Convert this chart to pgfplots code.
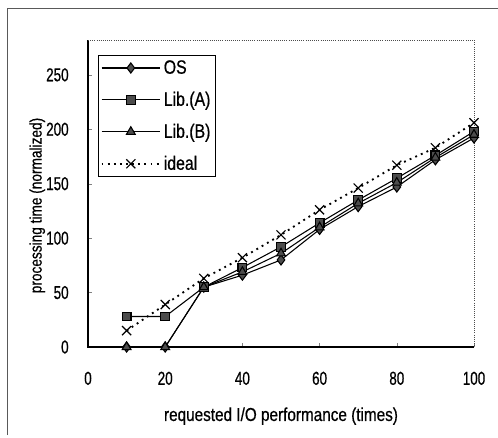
\documentclass[border=0pt]{standalone}
\usepackage{pgfplots}
\pgfplotsset{compat=1.18}
\usepackage{fontspec}
\setmainfont{Liberation Sans}[FakeStretch=0.82,FakeBold=0.6]
\newfontfamily\tickfont{Liberation Sans}[FakeStretch=0.72,FakeBold=0.6]

\definecolor{markfill}{gray}{0.3}

\begin{document}
\begin{tikzpicture}[x=0.75pt,y=0.75pt]
\useasboundingbox (0,0) rectangle (498,437);
% outer frame (top and left only are visible)
\draw[gray!70!black,line width=0.6pt] (7,2) -- (7,429) -- (498,429);
\begin{axis}[
  at={(66pt,67.5pt)},anchor=south west,
  scale only axis,width=289.5pt,height=230.25pt,
  xmin=0,xmax=100,ymin=0,ymax=282,
  xtick={0,20,...,100},ytick={0,50,...,250},
  xtick pos=left,ytick pos=left,tick align=inside,
  major tick length=3pt,
  axis line style={draw=none},
  clip=false,
  /pgf/number format/assume math mode=true,
  tick label style={font=\tickfont\fontsize{14}{16}\selectfont},
  xticklabel style={yshift=-15pt},
  yticklabel style={xshift=-11pt},
  xlabel={requested I/O performance (times)},
  ylabel={processing time (normalized)},
  xlabel style={font=\fontsize{14}{16}\selectfont,yshift=-10pt},
  ylabel style={font=\fontsize{12.5}{14}\selectfont,yshift=-6pt,xshift=-9pt},
  legend style={at={(0.026,0.951)},anchor=north west,draw=black,line width=0.8pt,
    font=\fontsize{14.5}{16}\selectfont,inner sep=1.5pt,row sep=8pt,cells={anchor=west}},
  legend image code/.code={\draw[mark repeat=2,mark phase=2,#1] plot coordinates {(0pt,0pt) (22pt,0pt) (44pt,0pt)};},
]
\draw[line width=0.8pt] (rel axis cs:0,1) -- (rel axis cs:0,0) -- (rel axis cs:1,0);
\draw[gray!60!black,densely dotted,line width=0.6pt] (rel axis cs:0,1) -- (rel axis cs:1,1) -- (rel axis cs:1,0);

\addplot[black,line width=0.8pt,mark=diamond*,mark size=3.8pt,mark options={fill=markfill,draw=black,solid}]
  coordinates {(10,0) (20,0) (30,55) (40,66) (50,80) (60,108) (70,129) (80,147) (90,172) (100,192)};
\addlegendentry{OS}
\addplot[black,line width=0.8pt,mark=square*,mark size=3.3pt,mark options={fill=markfill,draw=black,solid}]
  coordinates {(10,28) (20,28) (30,55) (40,73) (50,92) (60,114) (70,135) (80,155) (90,176) (100,198)};
\addlegendentry{Lib.(A)}
\addplot[black,line width=0.8pt,mark=triangle*,mark size=3.8pt,mark options={fill=markfill,draw=black,solid}]
  coordinates {(10,0) (20,0) (30,55) (40,69) (50,86) (60,110) (70,132) (80,151) (90,174) (100,195)};
\addlegendentry{Lib.(B)}
\addplot[black,line width=1.4pt,dash pattern=on 1.4pt off 3.2pt,mark=x,mark size=4.8pt,mark options={solid,line width=0.9pt}]
  coordinates {(10,15) (20,39) (30,63) (40,82) (50,103) (60,126) (70,146) (80,167) (90,183) (100,206)};
\addlegendentry{ideal}
\end{axis}
\end{tikzpicture}
\end{document}
